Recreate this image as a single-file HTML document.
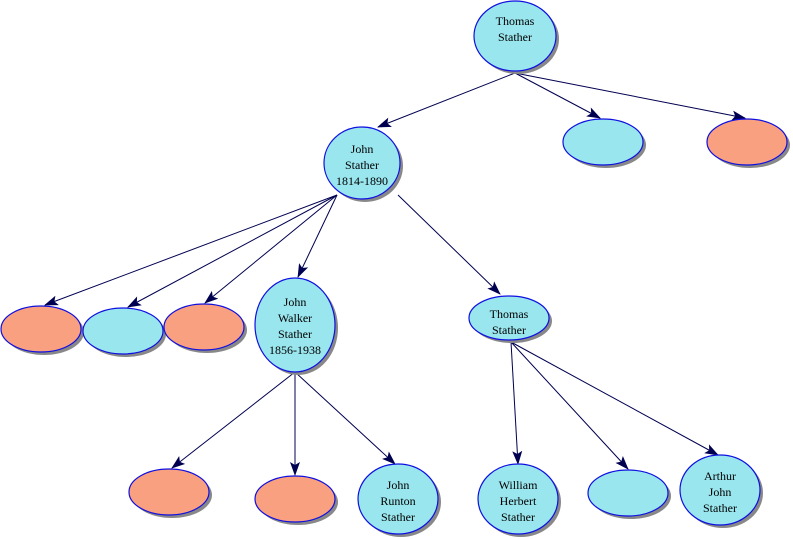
<!DOCTYPE html>
<html><head><style>body{margin:0;background:#fff}svg{display:block}text{font-family:"Liberation Serif",serif;font-size:12px;text-anchor:middle;fill:#000}</style></head><body>
<svg width="793" height="539" viewBox="0 0 793 539">
<defs><marker id="a" markerWidth="14" markerHeight="10" refX="13" refY="5" orient="auto" markerUnits="userSpaceOnUse"><path d="M0,0 L14,5 L0,10 L3,5 z" fill="#000050"/></marker></defs>
<g stroke="#000050" stroke-width="1" marker-end="url(#a)">
<line x1="515" y1="73" x2="378" y2="127"/>
<line x1="515" y1="73" x2="600" y2="118"/>
<line x1="515" y1="73" x2="745" y2="118"/>
<line x1="337" y1="195" x2="45" y2="305"/>
<line x1="337" y1="195" x2="128" y2="307"/>
<line x1="337" y1="195" x2="205" y2="303"/>
<line x1="337" y1="195" x2="298" y2="277"/>
<line x1="398" y1="195" x2="500" y2="294"/>
<line x1="511" y1="342" x2="518" y2="464"/>
<line x1="511" y1="342" x2="628" y2="469"/>
<line x1="511" y1="342" x2="718" y2="455"/>
<line x1="295" y1="372" x2="172" y2="468"/>
<line x1="295" y1="372" x2="295" y2="475"/>
<line x1="295" y1="372" x2="395" y2="464"/>
</g>
<g id="n">
<g fill="#888"><ellipse cx="518" cy="39" rx="41" ry="35"/><ellipse cx="365" cy="166" rx="38" ry="36"/><ellipse cx="606" cy="145" rx="40" ry="23"/><ellipse cx="750" cy="145" rx="40" ry="23"/><ellipse cx="44" cy="332" rx="40" ry="23"/><ellipse cx="126" cy="334" rx="40" ry="23"/><ellipse cx="207" cy="330" rx="40" ry="23"/><ellipse cx="298" cy="328" rx="40" ry="47"/><ellipse cx="512" cy="321" rx="40" ry="22"/><ellipse cx="172" cy="495" rx="40" ry="23"/><ellipse cx="298" cy="502" rx="40" ry="23"/><ellipse cx="401" cy="502" rx="40" ry="35"/><ellipse cx="521" cy="502" rx="40" ry="35"/><ellipse cx="631" cy="496" rx="40" ry="23"/><ellipse cx="723" cy="493" rx="40" ry="35"/></g>
<g stroke="#1010e0" stroke-width="1.2">
<ellipse cx="515" cy="36" rx="41" ry="35" fill="#99e6ee"/>
<ellipse cx="362" cy="163" rx="38" ry="36" fill="#99e6ee"/>
<ellipse cx="603" cy="142" rx="40" ry="23" fill="#99e6ee"/>
<ellipse cx="747" cy="142" rx="40" ry="23" fill="#f9a080"/>
<ellipse cx="41" cy="329" rx="40" ry="23" fill="#f9a080"/>
<ellipse cx="123" cy="331" rx="40" ry="23" fill="#99e6ee"/>
<ellipse cx="204" cy="327" rx="40" ry="23" fill="#f9a080"/>
<ellipse cx="295" cy="325" rx="40" ry="47" fill="#99e6ee"/>
<ellipse cx="509" cy="318" rx="40" ry="22" fill="#99e6ee"/>
<ellipse cx="169" cy="492" rx="40" ry="23" fill="#f9a080"/>
<ellipse cx="295" cy="499" rx="40" ry="23" fill="#f9a080"/>
<ellipse cx="398" cy="499" rx="40" ry="35" fill="#99e6ee"/>
<ellipse cx="518" cy="499" rx="40" ry="35" fill="#99e6ee"/>
<ellipse cx="628" cy="493" rx="40" ry="23" fill="#99e6ee"/>
<ellipse cx="720" cy="490" rx="40" ry="35" fill="#99e6ee"/>
</g></g>
<text x="515" y="25">Thomas</text><text x="515" y="41">Stather</text>
<text x="362" y="153">John</text><text x="362" y="169">Stather</text><text x="362" y="185">1814-1890</text>
<text x="295" y="306">John</text><text x="295" y="322">Walker</text><text x="295" y="338">Stather</text><text x="295" y="354">1856-1938</text>
<text x="509" y="318">Thomas</text><text x="509" y="334">Stather</text>
<text x="398" y="489">John</text><text x="398" y="505">Runton</text><text x="398" y="521">Stather</text>
<text x="518" y="489">William</text><text x="518" y="505">Herbert</text><text x="518" y="521">Stather</text>
<text x="720" y="480">Arthur</text><text x="720" y="496">John</text><text x="720" y="512">Stather</text>
</svg>
</body></html>
